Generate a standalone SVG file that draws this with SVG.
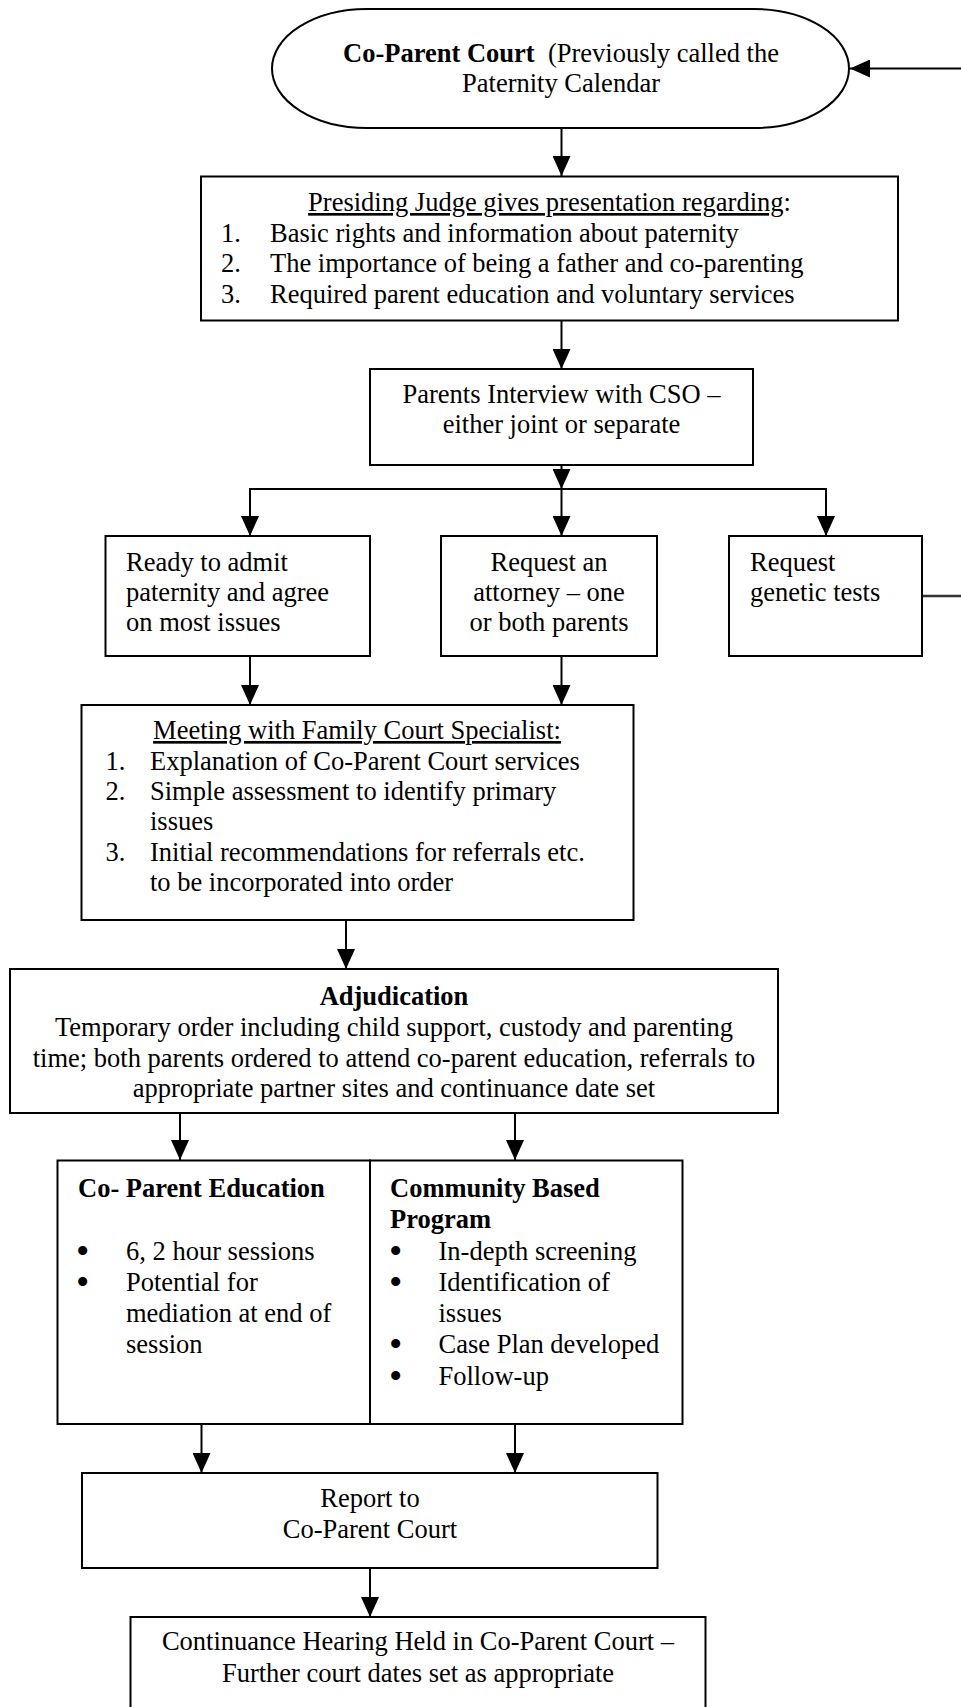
<svg xmlns="http://www.w3.org/2000/svg" width="961" height="1707" viewBox="0 0 961 1707">
<style>
  text { font-family: "Liberation Serif", "Times New Roman", serif; font-size: 26.5px; fill: #000; }
  .c { text-anchor: middle; }
  .b { font-weight: bold; }
  .u { text-decoration: underline; }
  .bul { font-size: 38px; }
  .box { fill: #fff; stroke: #000; stroke-width: 2; }
  .ln { fill: none; stroke: #000; stroke-width: 2; }
</style>
<defs>
  <marker id="ah" markerUnits="userSpaceOnUse" markerWidth="20" markerHeight="18" refX="20" refY="9" orient="auto">
    <path d="M0,0 L20,9 L0,18 Z" fill="#000"/>
  </marker>
</defs>
<rect width="961" height="1707" fill="#fff"/>

<g id="connectors">
  <line class="ln" x1="961" y1="68.5" x2="850" y2="68.5" marker-end="url(#ah)"/>
  <line class="ln" x1="561.5" y1="128" x2="561.5" y2="176" marker-end="url(#ah)"/>
  <line class="ln" x1="561.5" y1="321" x2="561.5" y2="369" marker-end="url(#ah)"/>
  <line class="ln" x1="561.5" y1="465" x2="561.5" y2="489" marker-end="url(#ah)"/>
  <polyline class="ln" points="250,536 250,489 826,489 826,536"/>
  <line class="ln" x1="250" y1="489" x2="250" y2="536" marker-end="url(#ah)"/>
  <line class="ln" x1="561.5" y1="489" x2="561.5" y2="536" marker-end="url(#ah)"/>
  <line class="ln" x1="826" y1="489" x2="826" y2="536" marker-end="url(#ah)"/>
  <line x1="922" y1="596" x2="961" y2="596" stroke="#333" stroke-width="2.5"/>
  <line class="ln" x1="250" y1="656" x2="250" y2="705" marker-end="url(#ah)"/>
  <line class="ln" x1="561.5" y1="656" x2="561.5" y2="705" marker-end="url(#ah)"/>
  <line class="ln" x1="346" y1="920" x2="346" y2="969" marker-end="url(#ah)"/>
  <line class="ln" x1="180" y1="1113" x2="180" y2="1160" marker-end="url(#ah)"/>
  <line class="ln" x1="515" y1="1113" x2="515" y2="1160" marker-end="url(#ah)"/>
  <line class="ln" x1="201.5" y1="1424" x2="201.5" y2="1473" marker-end="url(#ah)"/>
  <line class="ln" x1="515" y1="1424" x2="515" y2="1473" marker-end="url(#ah)"/>
  <line class="ln" x1="370" y1="1568" x2="370" y2="1617" marker-end="url(#ah)"/>
</g>

<g id="node-coparent-court">
  <rect class="box" x="272" y="9" width="577" height="119" rx="95" ry="59.5"/>
  <text class="c" x="561" y="62"><tspan class="b">Co-Parent Court</tspan>&#160; (Previously called the</text>
  <text class="c" x="561" y="92">Paternity Calendar</text>
</g>

<g id="node-judge">
  <rect class="box" x="201" y="176.5" width="697" height="144"/>
  <text class="c" x="549.5" y="211"><tspan class="u">Presiding Judge gives presentation regarding</tspan>:</text>
  <text x="221" y="241.5">1.</text><text x="270" y="241.5">Basic rights and information about paternity</text>
  <text x="221" y="272">2.</text><text x="270" y="272">The importance of being a father and co-parenting</text>
  <text x="221" y="302.5">3.</text><text x="270" y="302.5">Required parent education and voluntary services</text>
</g>

<g id="node-cso">
  <rect class="box" x="370" y="369" width="383" height="96"/>
  <text class="c" x="561.5" y="403">Parents Interview with CSO –</text>
  <text class="c" x="561.5" y="433">either joint or separate</text>
</g>

<g id="node-ready">
  <rect class="box" x="105.5" y="536" width="264.5" height="120"/>
  <text x="126" y="571">Ready to admit</text>
  <text x="126" y="601">paternity and agree</text>
  <text x="126" y="631">on most issues</text>
</g>

<g id="node-attorney">
  <rect class="box" x="441" y="536" width="216" height="120"/>
  <text class="c" x="549" y="571">Request an</text>
  <text class="c" x="549" y="601">attorney – one</text>
  <text class="c" x="549" y="631">or both parents</text>
</g>

<g id="node-genetic">
  <rect class="box" x="729" y="536" width="193" height="120"/>
  <text x="750" y="571">Request</text>
  <text x="750" y="601">genetic tests</text>
</g>

<g id="node-specialist">
  <rect class="box" x="81.5" y="705" width="552" height="215"/>
  <text class="c" x="357" y="739"><tspan class="u">Meeting with Family Court Specialist:</tspan></text>
  <text x="105.5" y="770">1.</text><text x="150" y="770">Explanation of Co-Parent Court services</text>
  <text x="105.5" y="800">2.</text><text x="150" y="800">Simple assessment to identify primary</text>
  <text x="150" y="830">issues</text>
  <text x="105.5" y="861">3.</text><text x="150" y="861">Initial recommendations for referrals etc.</text>
  <text x="150" y="891">to be incorporated into order</text>
</g>

<g id="node-adjudication">
  <rect class="box" x="10" y="969" width="768" height="144"/>
  <text class="c b" x="394" y="1005">Adjudication</text>
  <text class="c" x="394" y="1036">Temporary order including child support, custody and parenting</text>
  <text class="c" x="394" y="1066.5">time; both parents ordered to attend co-parent education, referrals to</text>
  <text class="c" x="394" y="1097">appropriate partner sites and continuance date set</text>
</g>

<g id="node-coparent-education">
  <rect class="box" x="57.5" y="1160.5" width="312.5" height="263.5"/>
  <text class="b" x="78" y="1196.5">Co- Parent Education</text>
  <text class="bul" x="76" y="1263.5">•</text><text x="126" y="1259.5">6, 2 hour sessions</text>
  <text class="bul" x="76" y="1294.5">•</text><text x="126" y="1290.5">Potential for</text>
  <text x="126" y="1322">mediation at end of</text>
  <text x="126" y="1353">session</text>
</g>

<g id="node-community-program">
  <rect class="box" x="370" y="1160.5" width="312.5" height="263.5"/>
  <text class="b" x="390" y="1196.5">Community Based</text>
  <text class="b" x="390" y="1227.5">Program</text>
  <text class="bul" x="389" y="1263.5">•</text><text x="438.5" y="1259.5">In-depth screening</text>
  <text class="bul" x="389" y="1294.5">•</text><text x="438.5" y="1290.5">Identification of</text>
  <text x="438.5" y="1322">issues</text>
  <text class="bul" x="389" y="1357">•</text><text x="438.5" y="1353">Case Plan developed</text>
  <text class="bul" x="389" y="1389">•</text><text x="438.5" y="1385">Follow-up</text>
</g>

<g id="node-report">
  <rect class="box" x="82" y="1473" width="575.5" height="95"/>
  <text class="c" x="370" y="1507">Report to</text>
  <text class="c" x="370" y="1538">Co-Parent Court</text>
</g>

<g id="node-continuance">
  <rect class="box" x="130.5" y="1617" width="575" height="120"/>
  <text class="c" x="418" y="1650">Continuance Hearing Held in Co-Parent Court –</text>
  <text class="c" x="418" y="1681.5">Further court dates set as appropriate</text>
</g>
</svg>
